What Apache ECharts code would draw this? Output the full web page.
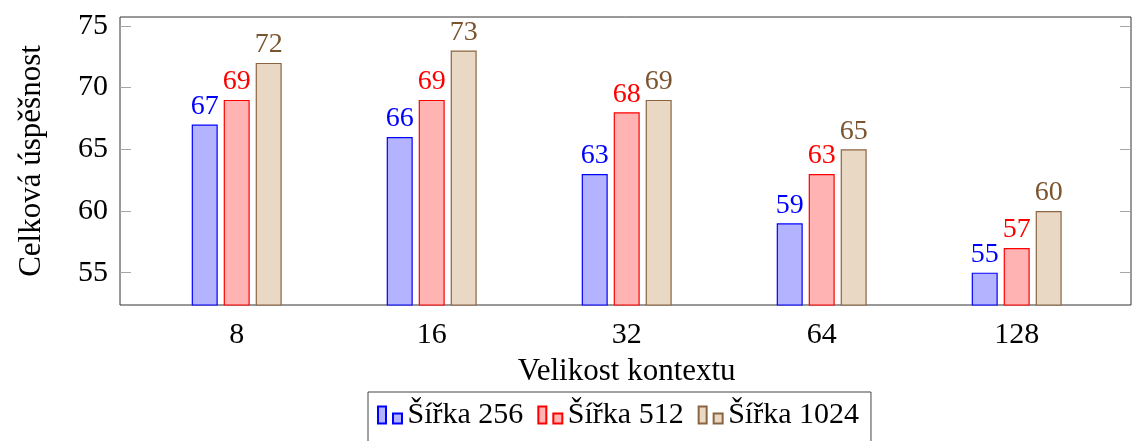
<!DOCTYPE html>
<html>
<head>
<meta charset="utf-8">
<script src="https://cdn.jsdelivr.net/npm/echarts@6/dist/echarts.min.js"></script>
<style>
  html, body { margin: 0; padding: 0; background: #fff; }
  #chart { width: 1133px; height: 441px; }
</style>
</head>
<body>
<div id="chart"></div>
<script>
const categories = ['8', '16', '32', '64', '128'];
const width256 = [67, 66, 63, 59, 55];
const width512 = [69, 69, 68, 63, 57];
const width1024 = [72, 73, 69, 65, 60];
const yTicks = [55, 60, 65, 70, 75];
const seriesNames = ['Šířka 256', 'Šířka 512', 'Šířka 1024'];

const font = 'Liberation Serif';
const yMin = 52.38;
const yMax = 75.72;
const tickColor = '#a6a6a6';

const palette = [
  { fill: '#b3b3ff', line: '#0000ff', label: '#0000ff' },
  { fill: '#ffb3b3', line: '#ff0000', label: '#ff0000' },
  { fill: '#e9d8c4', line: '#8b6442', label: '#7b5430' },
];

function barSeries(name, data, colors) {
  return {
    name,
    type: 'bar',
    xAxisIndex: 1,
    yAxisIndex: 2,
    data,
    barWidth: 26,
    barGap: '23%',
    itemStyle: { color: colors.fill, borderColor: colors.line, borderWidth: 1.2 },
    label: {
      show: true,
      position: 'top',
      distance: 4,
      color: colors.label,
      fontFamily: font,
      fontSize: 28,
    },
  };
}

const chart = echarts.init(document.getElementById('chart'));
chart.setOption({
  animation: false,
  backgroundColor: '#fff',
  textStyle: { fontFamily: font },
  grid: [
    // frame
    { left: 120, right: 2, top: 17, bottom: 136, show: true, borderColor: '#333', borderWidth: 1, backgroundColor: 'transparent' },
    // bars
    { left: 139.2, right: 18.8, top: 17, bottom: 136 },
  ],
  xAxis: [
    { gridIndex: 0, type: 'value', show: false },
    {
      gridIndex: 1,
      type: 'category',
      position: 'bottom',
      data: categories,
      name: 'Velikost kontextu',
      nameLocation: 'middle',
      nameGap: 51,
      nameTextStyle: { color: '#000', fontFamily: font, fontSize: 31 },
      axisLine: { show: false },
      axisTick: { alignWithLabel: true, length: 11, lineStyle: { color: tickColor } },
      axisLabel: { color: '#000', fontFamily: font, fontSize: 30, margin: 15 },
    },
    {
      gridIndex: 1,
      type: 'category',
      position: 'top',
      data: categories,
      axisLine: { show: false },
      axisTick: { alignWithLabel: true, length: 11, lineStyle: { color: tickColor } },
      axisLabel: { show: false },
    },
  ],
  yAxis: [
    {
      gridIndex: 0,
      type: 'value',
      position: 'left',
      min: yMin,
      max: yMax,
      name: 'Celková úspěšnost',
      nameLocation: 'middle',
      nameGap: 73,
      nameTextStyle: { color: '#000', fontFamily: font, fontSize: 31 },
      axisLine: { show: false },
      splitLine: { show: false },
      axisTick: { inside: true, length: 11, customValues: yTicks, lineStyle: { color: tickColor } },
      axisLabel: { color: '#000', fontFamily: font, fontSize: 30, margin: 12, customValues: yTicks },
    },
    {
      gridIndex: 0,
      type: 'value',
      position: 'right',
      min: yMin,
      max: yMax,
      axisLine: { show: false },
      splitLine: { show: false },
      axisTick: { inside: true, length: 11, customValues: yTicks, lineStyle: { color: tickColor } },
      axisLabel: { show: false },
    },
    { gridIndex: 1, type: 'value', min: yMin, max: yMax, show: false },
  ],
  legend: {
    data: seriesNames,
    left: 368,
    top: 392,
    orient: 'horizontal',
    backgroundColor: '#fff',
    borderColor: '#444',
    borderWidth: 1,
    borderRadius: 0,
    padding: [8, 12, 30, 9],
    itemWidth: 25,
    itemHeight: 17,
    itemGap: 14,
    icon: 'path://M0,0H8V17H0Z M15,7H24V17H15Z',
    textStyle: { color: '#000', fontFamily: font, fontSize: 30, padding: [4, 0, 0, 0] },
  },
  series: [
    barSeries(seriesNames[0], width256, palette[0]),
    barSeries(seriesNames[1], width512, palette[1]),
    barSeries(seriesNames[2], width1024, palette[2]),
  ],
});
</script>
</body>
</html>
